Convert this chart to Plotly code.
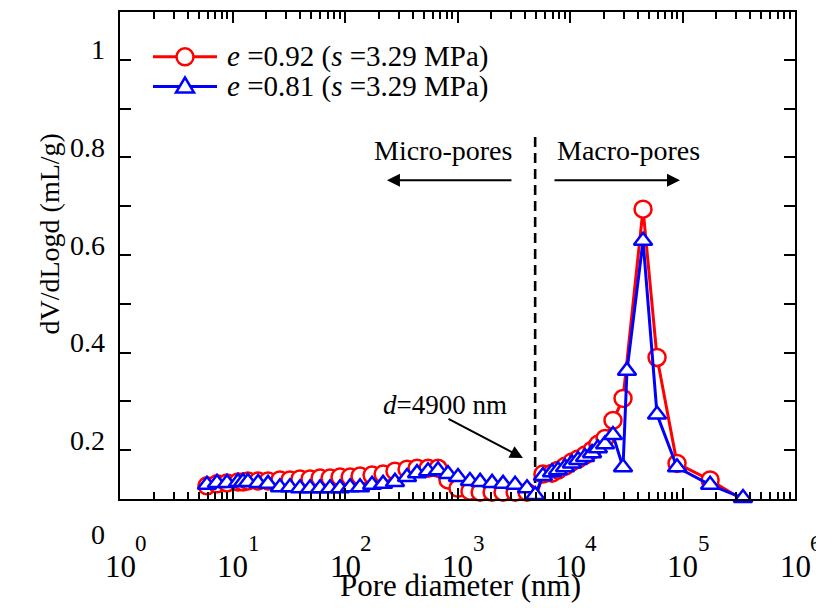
import math
import plotly.graph_objects as go

# ---------------- data ----------------
d_e092 = [5.93, 7.28, 8.94, 11.2, 12.4, 13.7, 16.9, 20.7, 26.4, 32.4, 39.8, 48.9, 60.0, 73.6,
          90.3, 111, 136, 174, 218, 278, 356, 437, 547, 671, 823, 1010, 1290, 1590, 2030,
          2540, 3250, 4150, 4900, 5750, 6920, 7820, 9030, 10400, 11800, 13600, 15700, 17700,
          20500, 24100, 29600, 44600, 59400, 89400, 176000, 345000]
dv_e092 = [0.127, 0.131, 0.133, 0.135, 0.135, 0.137, 0.137, 0.137, 0.139, 0.139, 0.141, 0.141,
           0.143, 0.143, 0.145, 0.145, 0.147, 0.149, 0.151, 0.157, 0.161, 0.163, 0.163, 0.163,
           0.139, 0.122, 0.116, 0.114, 0.114, 0.114, 0.114, 0.114, 0.098, 0.151, 0.153, 0.159,
           0.167, 0.176, 0.182, 0.190, 0.200, 0.212, 0.224, 0.261, 0.306, 0.694, 0.390, 0.173,
           0.139, 0.098]

d_e081 = [5.93, 7.28, 8.94, 11.2, 12.4, 13.7, 16.9, 20.7, 26.4, 32.4, 39.8, 48.9, 60.0, 73.6,
          90.3, 111, 136, 174, 218, 278, 356, 437, 547, 671, 823, 1010, 1290, 1590, 2030,
          2540, 3250, 4150, 4900, 5750, 6920, 7820, 9030, 10400, 11800, 13600, 15700, 17700,
          20500, 24100, 29600, 32100, 44600, 59400, 89400, 176000, 345000]
dv_e081 = [0.129, 0.133, 0.133, 0.135, 0.135, 0.135, 0.133, 0.131, 0.124, 0.124, 0.122, 0.122,
           0.122, 0.122, 0.122, 0.124, 0.124, 0.129, 0.131, 0.135, 0.145, 0.153, 0.157, 0.159,
           0.151, 0.145, 0.137, 0.135, 0.133, 0.131, 0.129, 0.122, 0.108, 0.147, 0.155, 0.159,
           0.165, 0.173, 0.180, 0.186, 0.194, 0.204, 0.212, 0.231, 0.165, 0.363, 0.629, 0.273,
           0.165, 0.129, 0.102]

boundary_d = 4900
boundary_top = 0.85

y_tick_vals = [0.2, 0.4, 0.6, 0.8, 1.0]
y_tick_text = ["0.2", "0.4", "0.6", "0.8", "1"]
x_decades = [0, 1, 2, 3, 4, 5, 6]

label_e092 = "<i>e</i> =0.92 (<i>s</i> =3.29 MPa)"
label_e081 = "<i>e</i> =0.81 (<i>s</i> =3.29 MPa)"

FONT = "Times New Roman, Liberation Serif, Tinos, serif"
RED = "#ff0000"
BLUE = "#0000ff"

fig = go.Figure()

fig.add_trace(go.Scatter(
    x=[boundary_d, boundary_d], y=[0.1, boundary_top], mode="lines",
    line=dict(color="black", width=2.6, dash="10px,6px"), showlegend=False, hoverinfo="skip"))

fig.add_trace(go.Scatter(
    x=d_e092, y=dv_e092, mode="lines+markers", name="e=0.92",
    line=dict(color=RED, width=3),
    marker=dict(symbol="circle", size=17, color="white", line=dict(color=RED, width=2.5)),
    showlegend=False, cliponaxis=False))

fig.add_trace(go.Scatter(
    x=d_e081, y=dv_e081, mode="lines+markers", name="e=0.81",
    line=dict(color=BLUE, width=3),
    marker=dict(symbol="triangle-up", size=16, color="white", line=dict(color=BLUE, width=2.5)),
    showlegend=False, cliponaxis=False))

ann = []
# y tick labels
for v, t in zip(y_tick_vals, y_tick_text):
    ann.append(dict(x=0, xref="paper", xanchor="right", xshift=-13, y=v, yref="y",
                    yanchor="middle", yshift=10, text=t, showarrow=False,
                    font=dict(family=FONT, size=28, color="black")))
ann.append(dict(x=0, xref="paper", xanchor="right", xshift=-13, y=0, yref="paper",
                yanchor="middle", yshift=-35, text="0", showarrow=False,
                font=dict(family=FONT, size=28, color="black")))
# x tick labels 10^n
for e in x_decades:
    ann.append(dict(x=e, xref="x", xanchor="center", y=0, yref="paper", yanchor="middle",
                    yshift=-67, text="10", showarrow=False,
                    font=dict(family=FONT, size=31, color="black")))
    ann.append(dict(x=e, xref="x", xanchor="center", xshift=21, y=0, yref="paper",
                    yanchor="middle", yshift=-44, text=str(e), showarrow=False,
                    font=dict(family=FONT, size=23, color="black")))
# axis titles
ann.append(dict(x=0.504, xref="paper", y=0, yref="paper", yanchor="middle", yshift=-86,
                text="Pore diameter (nm)", showarrow=False,
                font=dict(family=FONT, size=31, color="black")))
ann.append(dict(x=-0.1304, xref="paper", y=0.544, yref="paper", textangle=-90,
                text="dV/dLogd (mL/g)", showarrow=False,
                font=dict(family=FONT, size=28, color="black")))
# region texts and arrows
ann.append(dict(x=math.log10(743), y=0.814, xref="x", yref="y", text="Micro-pores",
                showarrow=False, font=dict(family=FONT, size=28, color="black")))
ann.append(dict(x=math.log10(32800), y=0.814, xref="x", yref="y", text="Macro-pores",
                showarrow=False, font=dict(family=FONT, size=28, color="black")))
ann.append(dict(x=math.log10(236), y=0.753, xref="x", yref="y", ax=126, ay=0, text="",
                showarrow=True, arrowhead=2, arrowsize=1.3, arrowwidth=2, arrowcolor="black"))
ann.append(dict(x=math.log10(95000), y=0.753, xref="x", yref="y", ax=-127, ay=0, text="",
                showarrow=True, arrowhead=2, arrowsize=1.3, arrowwidth=2, arrowcolor="black"))
ann.append(dict(x=math.log10(774), y=0.292, xref="x", yref="y",
                text="<i>d</i>=4900 nm", showarrow=False,
                font=dict(family=FONT, size=27, color="black")))
ann.append(dict(x=math.log10(3820), y=0.184, xref="x", yref="y", ax=-76, ay=-40, text="",
                showarrow=True, arrowhead=2, arrowsize=1.3, arrowwidth=2, arrowcolor="black"))
# legend texts
ann.append(dict(x=0.1556, xref="paper", xanchor="left", y=0.908, yref="paper",
                yanchor="middle", text=label_e092, showarrow=False,
                font=dict(family=FONT, size=29, color="black")))
ann.append(dict(x=0.1556, xref="paper", xanchor="left", y=0.847, yref="paper",
                yanchor="middle", text=label_e081, showarrow=False,
                font=dict(family=FONT, size=29, color="black")))

shapes = [
    dict(type="line", xref="paper", yref="paper", x0=0.0489, x1=0.1437, y0=0.908, y1=0.908,
         line=dict(color=RED, width=3)),
    dict(type="circle", xref="paper", yref="paper", xsizemode="pixel", ysizemode="pixel",
         xanchor=0.0963, yanchor=0.908, x0=-8.5, x1=8.5, y0=-8.5, y1=8.5,
         fillcolor="white", line=dict(color=RED, width=2.5)),
    dict(type="line", xref="paper", yref="paper", x0=0.0489, x1=0.1437, y0=0.847, y1=0.847,
         line=dict(color=BLUE, width=3)),
    dict(type="path", xref="paper", yref="paper", xsizemode="pixel", ysizemode="pixel",
         xanchor=0.0963, yanchor=0.847, path="M-9,-6 L9,-6 L0,9 Z",
         fillcolor="white", line=dict(color=BLUE, width=2.5)),
]

minor_vals = [m * 10 ** e for e in x_decades[:-1] for m in range(2, 10)]

# the page body has an 8 px margin, so the figure is 8 px smaller each way
fig.update_layout(
    width=816, height=600,
    margin=dict(l=112, r=29, t=2, b=109),
    paper_bgcolor="white", plot_bgcolor="white",
    font=dict(family=FONT, color="black"),
    showlegend=False,
    annotations=ann, shapes=shapes,
    xaxis=dict(type="log", range=[0, 6], tickvals=[10 ** e for e in x_decades],
               showticklabels=False, ticks="inside", ticklen=11, tickwidth=2,
               tickcolor="black", showline=True, linecolor="black", linewidth=2,
               mirror="ticks", showgrid=False, zeroline=False,
               minor=dict(tickmode="array", tickvals=minor_vals, ticks="inside",
                          ticklen=7, tickwidth=1.5, tickcolor="black", showgrid=False)),
    yaxis=dict(range=[0.1, 1.098], tickmode="linear", tick0=0, dtick=0.1,
               showticklabels=False, ticks="inside", ticklen=11, tickwidth=2,
               tickcolor="black", showline=True, linecolor="black", linewidth=2,
               mirror="ticks", showgrid=False, zeroline=False),
)

fig.write_html("out.html")
